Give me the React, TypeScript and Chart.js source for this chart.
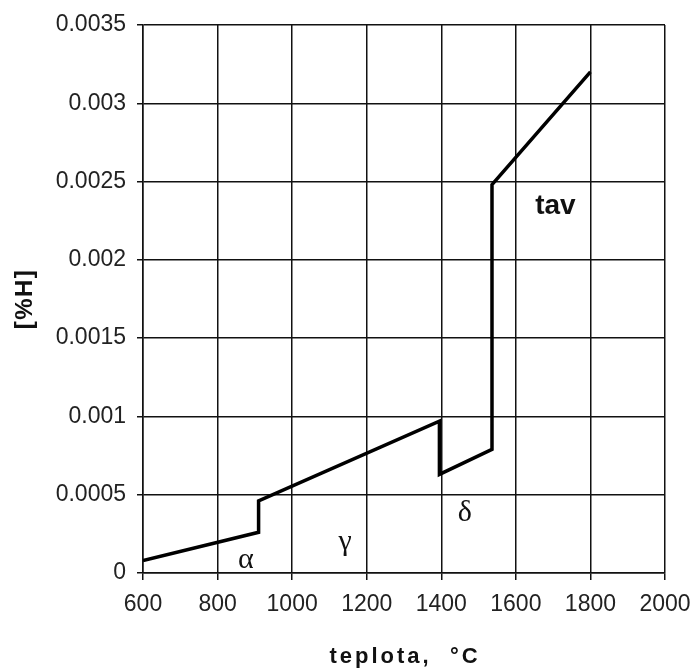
import React, { useEffect, useRef } from "react";
import { Chart, registerables } from "chart.js";

Chart.register(...registerables);

// Hydrogen solubility in iron vs temperature
const temperatures = [600, 910, 910, 1395, 1395, 1536, 1536, 1800];
const hydrogen = [0.00008, 0.00026, 0.00046, 0.00097, 0.00063, 0.00079, 0.00248, 0.0032];

const xTicks = [600, 800, 1000, 1200, 1400, 1600, 1800, 2000];
const yTicks = [0, 0.0005, 0.001, 0.0015, 0.002, 0.0025, 0.003, 0.0035];

// Phase labels placed in data coordinates
const phaseLabels = [
  { text: "α", x: 876, y: 0.00008, serif: true },
  { text: "γ", x: 1142, y: 0.0002, serif: true },
  { text: "δ", x: 1463, y: 0.00038, serif: true },
  { text: "tav", x: 1706, y: 0.00234, serif: false },
];

const xTitle = "teplota,  °C";
const yTitle = "[%H]";

const fmt = (v: number) => (v === 0 ? "0" : String(+v.toFixed(4)));

const labelsPlugin = {
  id: "phaseLabels",
  afterDraw(chart: any) {
    const { ctx, scales } = chart;
    const xs = scales.x;
    const ys = scales.y;
    ctx.save();
    ctx.fillStyle = "#111";
    ctx.textAlign = "center";
    ctx.textBaseline = "middle";
    for (const l of phaseLabels) {
      ctx.font = l.serif
        ? "30px 'Liberation Serif', 'DejaVu Serif', serif"
        : "bold 28px 'Liberation Sans', Arial, sans-serif";
      ctx.fillText(l.text, xs.getPixelForValue(l.x), ys.getPixelForValue(l.y));
    }

    // axis titles
    const area = chart.chartArea;
    ctx.font = "bold 22px 'Liberation Sans', Arial, sans-serif";
    (ctx as any).letterSpacing = "3px";
    ctx.fillText(xTitle, (area.left + area.right) / 2 + 1, 657);

    ctx.translate(25, (area.top + area.bottom) / 2);
    ctx.rotate(-Math.PI / 2);
    ctx.font = "bold 24px 'Liberation Sans', Arial, sans-serif";
    (ctx as any).letterSpacing = "1.5px";
    ctx.fillText(yTitle, 0, 0);
    (ctx as any).letterSpacing = "0px";
    ctx.restore();
  },
};

export default function App() {
  const canvasRef = useRef<HTMLCanvasElement | null>(null);

  useEffect(() => {
    const canvas = canvasRef.current;
    if (!canvas) return;
    const tickFont = { family: "'Liberation Sans', Arial, sans-serif", size: 23 };
    const gridColor = "#111";
    const chart = new Chart(canvas, {
      type: "line",
      data: {
        datasets: [
          {
            data: temperatures.map((t, i) => ({ x: t, y: hydrogen[i] })),
            borderColor: "#000",
            borderWidth: 3.5,
            borderJoinStyle: "miter",
            pointRadius: 0,
            tension: 0,
            fill: false,
          },
        ],
      },
      options: {
        responsive: false,
        animation: false,
        devicePixelRatio: 1,
        layout: { padding: { top: 25, right: 29, left: 0, bottom: 0 } },
        plugins: {
          legend: { display: false },
          tooltip: { enabled: false },
        },
        scales: {
          x: {
            type: "linear",
            min: 600,
            max: 2000,
            afterBuildTicks: (s: any) => {
              s.ticks = xTicks.map((v) => ({ value: v }));
            },
            afterFit: (s: any) => {
              s.height = 96;
              s.paddingLeft = 0;
              s.paddingRight = 0;
            },
            ticks: {
              font: tickFont,
              color: "#222",
              padding: 11,
              maxRotation: 0,
              autoSkip: false,
              callback: (v: any) => String(v),
            },
            grid: { color: gridColor, lineWidth: 1.5, tickLength: 7 },
            border: { color: gridColor, width: 1.5 },
          },
          y: {
            type: "linear",
            min: 0,
            max: 0.0035,
            afterBuildTicks: (s: any) => {
              s.ticks = yTicks.map((v) => ({ value: v }));
            },
            afterFit: (s: any) => {
              s.width = 143;
              s.paddingTop = 0;
              s.paddingBottom = 0;
            },
            ticks: {
              font: tickFont,
              color: "#222",
              padding: 11,
              autoSkip: false,
              callback: (v: any) => fmt(Number(v)),
            },
            grid: { color: gridColor, lineWidth: 1.5, tickLength: 6 },
            border: { color: gridColor, width: 1.5 },
          },
        },
      },
      plugins: [labelsPlugin],
    });
    return () => chart.destroy();
  }, []);

  return (
    <div style={{ position: "absolute", left: 0, top: 0, width: 694, height: 669, background: "#fff" }}>
      <canvas ref={canvasRef} width={694} height={669} />
    </div>
  );
}
